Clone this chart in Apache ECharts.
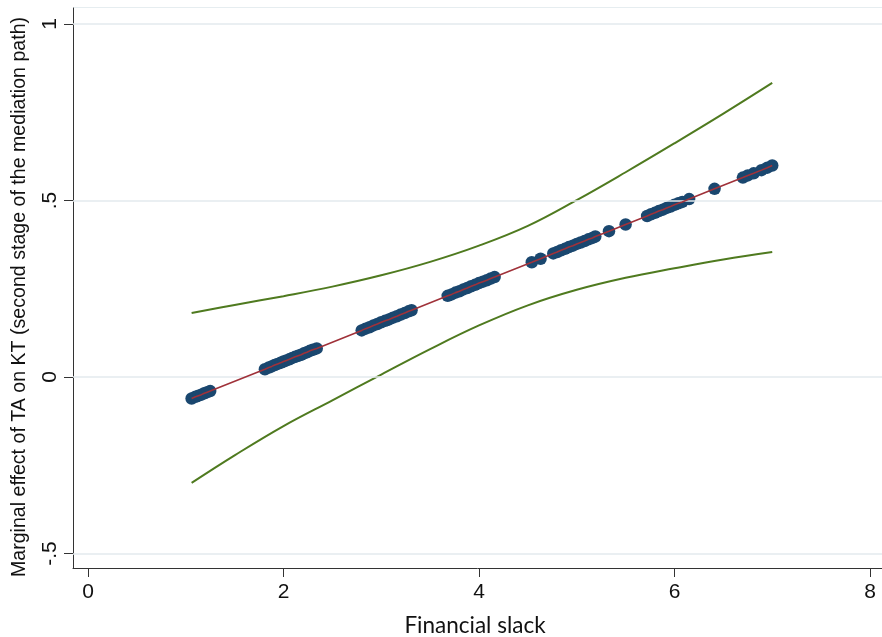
<!DOCTYPE html>
<html>
<head>
<meta charset="utf-8">
<script src="https://cdn.jsdelivr.net/npm/echarts@6/dist/echarts.min.js"></script>
<style>html,body{margin:0;padding:0;background:#fff}#c{width:882px;height:637px}</style>
</head>
<body>
<div id="c"></div>
<script>
// Financial slack values of the observations and their marginal effects
const dotX = [1.06,1.10,1.13,1.16,1.19,1.22,1.25,
  1.81,1.85,1.88,1.91,1.94,1.97,2.00,2.03,2.06,2.09,2.12,2.15,2.18,2.21,2.24,2.27,2.30,2.34,
  2.80,2.84,2.88,2.92,2.96,3.00,3.04,3.08,3.12,3.16,3.20,3.24,3.28,3.31,
  3.68,3.72,3.76,3.80,3.84,3.88,3.92,3.96,4.00,4.04,4.08,4.12,4.16,
  4.54,4.63,
  4.76,4.80,4.84,4.88,4.92,4.96,5.00,5.04,5.08,5.12,5.16,5.19,
  5.33,5.50,
  5.72,5.76,5.80,5.84,5.88,5.92,5.96,6.00,6.04,6.08,6.15,
  6.41,6.70,6.75,6.81,6.89,6.95,7.00];
const dotY = [-0.061,-0.056,-0.053,-0.050,-0.046,-0.043,-0.040,
  0.022,0.027,0.030,0.034,0.037,0.040,0.044,0.047,0.050,0.054,0.057,0.060,0.063,0.067,0.070,0.074,0.077,0.081,
  0.132,0.137,0.141,0.146,0.150,0.155,0.159,0.163,0.168,0.172,0.177,0.181,0.186,0.189,
  0.230,0.234,0.239,0.243,0.248,0.252,0.257,0.261,0.266,0.270,0.274,0.279,0.283,
  0.325,0.335,
  0.350,0.354,0.359,0.363,0.368,0.372,0.377,0.381,0.385,0.390,0.394,0.398,
  0.413,0.432,
  0.456,0.461,0.465,0.470,0.474,0.479,0.483,0.488,0.492,0.496,0.504,
  0.533,0.565,0.571,0.577,0.586,0.593,0.599];
// Confidence band
const bandX = [1.06,1.5,2.0,2.5,3.0,3.5,4.0,4.5,5.0,5.5,6.0,6.5,7.0];
const upperY = [0.181,0.204,0.229,0.256,0.288,0.326,0.372,0.428,0.501,0.580,0.662,0.746,0.833];
const lowerY = [-0.300,-0.222,-0.139,-0.066,0.007,0.079,0.146,0.203,0.247,0.281,0.308,0.333,0.354];
// Axis ticks
const xTicks = [0,2,4,6,8];
const yTicks = [-0.5,0,0.5,1];
const yTickLabels = ['-.5','0','.5','1'];

const zip = (a,b) => a.map((v,i) => [v,b[i]]);
const axisColor = '#333';
const chart = echarts.init(document.getElementById('c'), null, {renderer:'canvas'});
chart.setOption({
  animation:false,
  backgroundColor:'#fff',
  grid:{left:73,right:0,top:8,bottom:69,containLabel:false},
  xAxis:{
    type:'value', min:-0.1535, max:8.123,
    axisLine:{show:true,onZero:false,lineStyle:{color:axisColor,width:1}},
    axisTick:{show:true,length:9,customValues:xTicks,lineStyle:{color:axisColor}},
    axisLabel:{customValues:xTicks,margin:14,fontSize:21,color:'#111',fontFamily:'Liberation Sans'},
    splitLine:{show:false}
  },
  yAxis:{
    type:'value', min:-0.5411, max:1.0453,
    axisLine:{show:true,onZero:false,lineStyle:{color:axisColor,width:1}},
    axisTick:{show:true,length:9,customValues:yTicks,lineStyle:{color:axisColor}},
    axisLabel:{customValues:yTicks,rotate:90,margin:12,fontSize:21,color:'#111',fontFamily:'Liberation Sans',
      formatter:v=>{const i=yTicks.findIndex(t=>Math.abs(t-v)<1e-6);return i>=0?yTickLabels[i]:'';}},
    splitLine:{show:false}
  },
  graphic:[
    {type:'text',x:20,y:297,rotation:Math.PI/2,style:{text:'Marginal effect of TA on KT (second stage of the mediation path)',
      font:'19.6px "Liberation Sans"',fill:'#111',align:'center',verticalAlign:'middle'}},
    {type:'text',x:475,y:626,style:{text:'Financial slack',font:'22.5px Lato',fill:'#111',align:'center',verticalAlign:'middle'}},
    {type:'rect',shape:{x:73,y:7.5,width:809,height:0},style:{stroke:'#e6edf0',lineWidth:1}}
  ],
  series:[
    {type:'line',data:[],silent:true,
      markLine:{silent:true,symbol:'none',label:{show:false},lineStyle:{color:'#e3eaee',type:'solid',width:1.5},
        data:yTicks.map(v=>({yAxis:v}))}},
    {type:'line',data:zip(bandX,upperY),smooth:0.4,showSymbol:false,lineStyle:{color:'#4f7a1f',width:2},z:3},
    {type:'line',data:zip(bandX,lowerY),smooth:0.4,showSymbol:false,lineStyle:{color:'#4f7a1f',width:2},z:3},
    {type:'scatter',data:zip(dotX,dotY),symbolSize:12.5,itemStyle:{color:'#1a476f',opacity:1},z:4},
    {type:'line',data:zip(dotX,dotY),showSymbol:false,lineStyle:{color:'#a0323a',width:1.6},z:5}
  ]
});
</script>
</body>
</html>
